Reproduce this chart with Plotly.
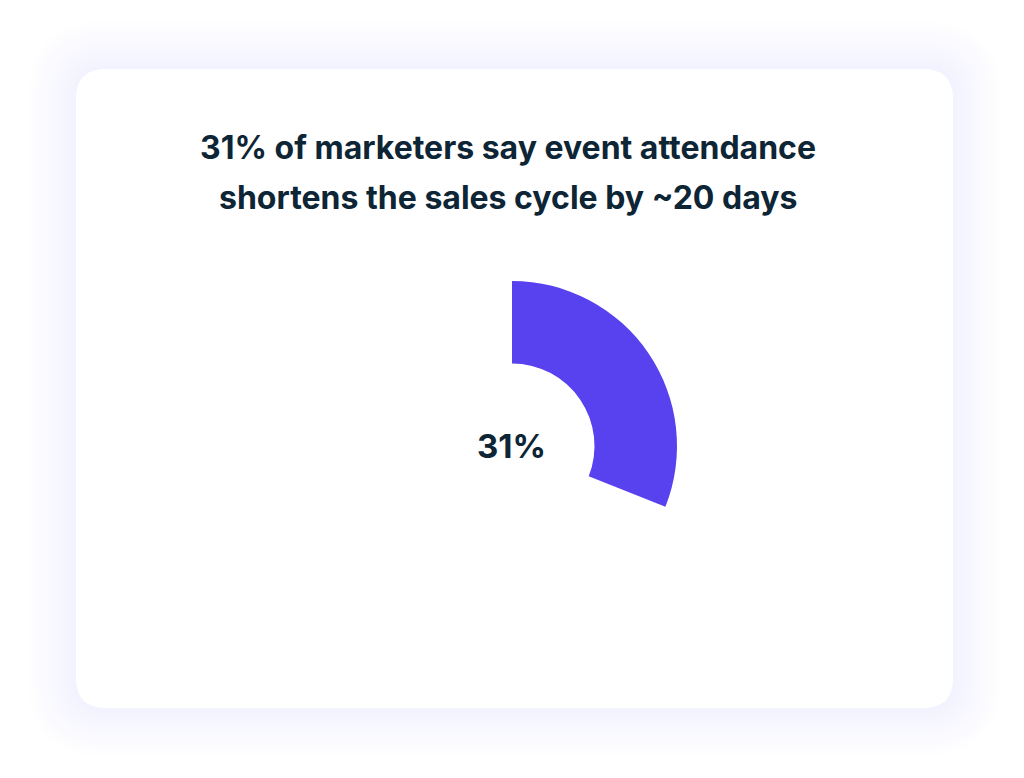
import plotly.graph_objects as go

labels = ["Shortens cycle", "Other"]
values = [31, 69]
title_lines = ["31% of marketers say event attendance", "shortens the sales cycle by ~20 days"]
center_text = "31%"

W, H = 1024, 778
OX, OY = -8, -8  # page offset compensation

def rrect(x0, y0, x1, y1, r):
    return (f"M{x0+r},{y0} L{x1-r},{y0} Q{x1},{y0} {x1},{y0+r} L{x1},{y1-r} Q{x1},{y1} {x1-r},{y1} "
            f"L{x0+r},{y1} Q{x0},{y1} {x0},{y1-r} L{x0},{y0+r} Q{x0},{y0} {x0+r},{y0} Z")

def X(x): return x + OX
def Y(y): return H - (y + OY)

shapes = []
for i in range(12, 0, -1):
    e = i * 4
    shapes.append(dict(type="path", xref="x", yref="y", layer="below",
                       path=rrect(X(76)-e, Y(708)-e, X(953)+e, Y(69)+e, 30+e),
                       fillcolor="rgba(120,100,255,0.008)", line=dict(width=0)))
shapes.append(dict(type="path", xref="x", yref="y", layer="below",
                   path=rrect(X(76), Y(708), X(953), Y(69), 30), fillcolor="white", line=dict(width=0)))

cx, cy, r = X(512), Y(446), 165
fig = go.Figure(go.Pie(
    labels=labels, values=values, hole=0.5, sort=False, direction="clockwise", rotation=0,
    marker=dict(colors=["#5841ee", "rgba(0,0,0,0)"], line=dict(width=0)),
    textinfo="none", hoverinfo="label+value", showlegend=False,
    domain=dict(x=[(cx-r)/W, (cx+r)/W], y=[(cy-r)/H, (cy+r)/H]),
))

font = "Inter, Roboto, sans-serif"
ann = [dict(text=f"<b>{t}</b>", x=X(508), y=Y(y), xref="x", yref="y", showarrow=False,
            font=dict(family=font, size=32, color="#0d2535")) for t, y in zip(title_lines, [147, 197])]
ann.append(dict(text=f"<b>{center_text}</b>", x=X(511), y=Y(446), xref="x", yref="y", showarrow=False,
                font=dict(family=font, size=33, color="#0d2535")))

fig.update_layout(
    width=W, height=H, margin=dict(l=0, r=0, t=0, b=0),
    paper_bgcolor="white", plot_bgcolor="rgba(0,0,0,0)",
    xaxis=dict(range=[0, W], visible=False, fixedrange=True),
    yaxis=dict(range=[0, H], visible=False, fixedrange=True),
    shapes=shapes, annotations=ann,
)
fig.write_html("out.html")
